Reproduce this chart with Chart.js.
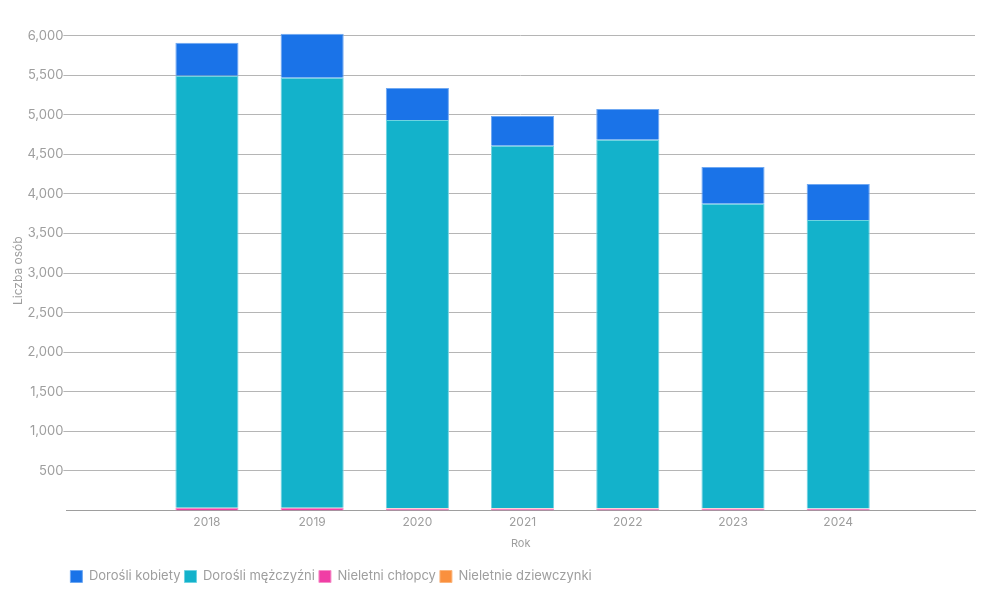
<!DOCTYPE html>
<html lang="pl">
<head>
  <meta charset="UTF-8">
  <title>Liczba osób wg roku</title>
  <script src="https://cdn.jsdelivr.net/npm/chart.js"></script>
  <style>
    html, body { margin: 0; padding: 0; background: #fff; }
    #wrap { width: 992px; height: 598px; }
  </style>
</head>
<body>
  <div id="wrap"><canvas id="chart"></canvas></div>
  <script>
    // data
    const years = [2018, 2019, 2020, 2021, 2022, 2023, 2024];
    const boys = [30, 30, 25, 25, 25, 25, 20];
    const girls = [5, 5, 5, 5, 5, 5, 5];
    const men = [5460, 5435, 4905, 4580, 4655, 3845, 3645];
    const women = [415, 555, 405, 375, 390, 465, 455];
    const yTicks = [500, 1000, 1500, 2000, 2500, 3000, 3500, 4000, 4500, 5000, 5500, 6000];

    const labelOrder = ['Dorośli kobiety', 'Dorośli mężczyźni', 'Nieletni chłopcy', 'Nieletnie dziewczynki'];
    const grey = '#9e9e9e';
    const font = 'Inter, "Noto Sans", sans-serif';

    const pts = arr => arr.map((v, i) => ({ x: years[i], y: v }));

    // datasets listed bottom-up in the stack
    const datasets = [
      { label: 'Nieletni chłopcy', data: pts(boys), backgroundColor: '#f03ea5', borderColor: '#f58fc8' },
      { label: 'Nieletnie dziewczynki', data: pts(girls), backgroundColor: '#fa903e', borderColor: '#fbb67e' },
      { label: 'Dorośli mężczyźni', data: pts(men), backgroundColor: '#13b2cb', borderColor: '#6fd3e2' },
      { label: 'Dorośli kobiety', data: pts(women), backgroundColor: '#1a73e8', borderColor: '#6fa8f2' }
    ].map(d => Object.assign(d, { borderWidth: 1, barPercentage: 0.6, categoryPercentage: 1 }));

    new Chart(document.getElementById('chart'), {
      type: 'bar',
      data: { datasets },
      options: {
        responsive: true,
        maintainAspectRatio: false,
        animation: false,
        layout: { padding: { left: 7, right: 17, top: 31, bottom: 5 } },
        plugins: {
          legend: {
            position: 'bottom',
            align: 'start',
            fullSize: false,
            labels: {
              color: grey,
              boxWidth: 12,
              boxHeight: 12,
              padding: 4,
              font: { family: font, size: 13 },
              sort: (a, b) => labelOrder.indexOf(a.text) - labelOrder.indexOf(b.text)
            }
          },
          tooltip: { enabled: false }
        },
        scales: {
          x: {
            type: 'linear',
            stacked: true,
            offset: false,
            min: 2016.664,
            max: 2025.3,
            afterBuildTicks: s => { s.ticks = years.map(v => ({ value: v })); },
            grid: { display: false, drawTicks: false, tickLength: 0 },
            border: { color: grey },
            ticks: { color: grey, font: { family: font, size: 12 }, padding: 5, callback: v => String(v) },
            title: { display: true, text: 'Rok', color: grey, font: { family: font, size: 11 }, padding: { top: 2, bottom: 16 } }
          },
          y: {
            stacked: true,
            min: 0,
            max: 6060,
            afterBuildTicks: s => { s.ticks = yTicks.map(v => ({ value: v })); },
            grid: { color: '#b5b5b5', tickLength: 3 },
            border: { display: false },
            ticks: { color: grey, font: { family: font, size: 13 }, padding: 0,
                     callback: v => v.toLocaleString('en-US') },
            title: { display: true, text: 'Liczba osób', color: grey, font: { family: font, size: 12 }, padding: { bottom: 2 } }
          }
        }
      }
    });
  </script>
</body>
</html>
